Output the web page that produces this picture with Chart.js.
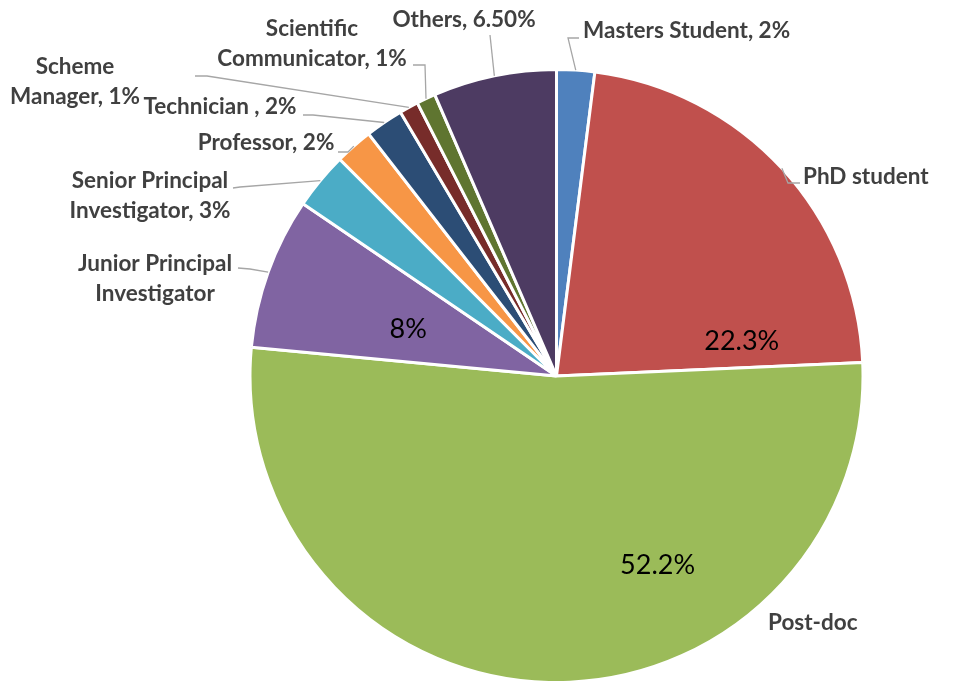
<!DOCTYPE html>
<html>
<head>
<meta charset="utf-8">
<script src="https://cdn.jsdelivr.net/npm/chart.js@4/dist/chart.umd.min.js"></script>
<style>
  html, body { margin: 0; padding: 0; background: #fff; }
  #wrap { width: 955px; height: 684px; }
</style>
</head>
<body>
<div id="wrap"><canvas id="chart" width="955" height="684"></canvas></div>
<script>
// slice data, clockwise from 12 o'clock
const categories = ['Masters Student', 'PhD student', 'Post-doc', 'Junior Principal Investigator',
  'Senior Principal Investigator', 'Professor', 'Technician ', 'Scheme Manager',
  'Scientific Communicator', 'Others'];
const shares = [2, 22.3, 52.2, 8, 3, 2, 2, 1, 1, 6.5];
const sliceColors = ['#4F81BD', '#C0504D', '#9BBB59', '#8064A2', '#4BACC6',
  '#F79646', '#2C4D75', '#772C2A', '#5F7530', '#4D3B62'];

// label texts (outside, bold grey) and the numbers written inside some slices
const outerText = [
  ['Masters Student, 2%'], ['PhD student'], ['Post-doc'],
  ['Junior Principal', 'Investigator'], ['Senior Principal', 'Investigator, 3%'],
  ['Professor, 2%'], ['Technician , 2%'], ['Scheme', 'Manager, 1%'],
  ['Scientific', 'Communicator, 1%'], ['Others, 6.50%']
];
const innerText = ['', '22.3%', '52.2%', '8%', '', '', '', '', '', ''];

// where the labels sit (layout only)
const outerPos = [
  { x: 583, y: 31, align: 'left', leader: [[568, 38], [579, 38]] },
  { x: 803, y: 177, align: 'left', leader: [[788, 183], [800, 183]] },
  { x: 768, y: 623, align: 'left', leader: null },
  { x: 155, y: 264, align: 'center', leader: [[250, 269], [238, 268]] },
  { x: 150, y: 181, align: 'center', leader: [[240, 187], [233, 188]] },
  { x: 266, y: 143, align: 'center', leader: [[348, 152], [338, 152]] },
  { x: 220, y: 107, align: 'center', leader: [[313, 115], [303, 115]] },
  { x: 75, y: 67, align: 'center', leader: [[207, 76], [195, 76]] },
  { x: 312, y: 29, align: 'center', leader: [[425, 65], [413, 65]] },
  { x: 464, y: 20, align: 'center', leader: [[490, 35]] }
];
// inner labels: angle clockwise from top (deg), fraction of radius
const innerPos = [null, [79.3, 0.615], [151.9, 0.70], [287.3, 0.507], null, null, null, null, null, null];

const LINE_H = 30;

const labelPlugin = {
  id: 'pieLabels',
  afterDatasetsDraw(chart) {
    const ctx = chart.ctx;
    const arcs = chart.getDatasetMeta(0).data;
    ctx.save();
    // leader lines
    ctx.strokeStyle = '#A6A6A6';
    ctx.lineWidth = 1.3;
    arcs.forEach((arc, i) => {
      const p = outerPos[i];
      if (!p || !p.leader) return;
      const mid = (arc.startAngle + arc.endAngle) / 2;
      ctx.beginPath();
      ctx.moveTo(arc.x + Math.cos(mid) * arc.outerRadius, arc.y + Math.sin(mid) * arc.outerRadius);
      p.leader.forEach(pt => ctx.lineTo(pt[0], pt[1]));
      ctx.stroke();
    });
    // outer labels
    ctx.fillStyle = '#404040';
    ctx.font = 'bold 22.5px Lato';
    ctx.textBaseline = 'middle';
    outerText.forEach((lines, i) => {
      const p = outerPos[i];
      ctx.textAlign = p.align;
      lines.forEach((t, k) => ctx.fillText(t, p.x, p.y + k * LINE_H));
    });
    // inner labels
    ctx.fillStyle = '#000';
    ctx.font = '27px Lato';
    ctx.textAlign = 'center';
    arcs.forEach((arc, i) => {
      const q = innerPos[i];
      if (!q) return;
      const a = (q[0] - 90) * Math.PI / 180;
      const r = arc.outerRadius * q[1];
      ctx.fillText(innerText[i], arc.x + Math.cos(a) * r, arc.y + Math.sin(a) * r);
    });
    ctx.restore();
  }
};

new Chart(document.getElementById('chart').getContext('2d'), {
  type: 'pie',
  data: {
    labels: categories,
    datasets: [{
      data: shares,
      backgroundColor: sliceColors,
      borderColor: '#ffffff',
      borderWidth: 3
    }]
  },
  options: {
    responsive: false,
    animation: false,
    layout: { padding: { top: 68, left: 247, right: 89, bottom: -4 } },
    plugins: { legend: { display: false }, tooltip: { enabled: false } }
  },
  plugins: [labelPlugin]
});
</script>
</body>
</html>
